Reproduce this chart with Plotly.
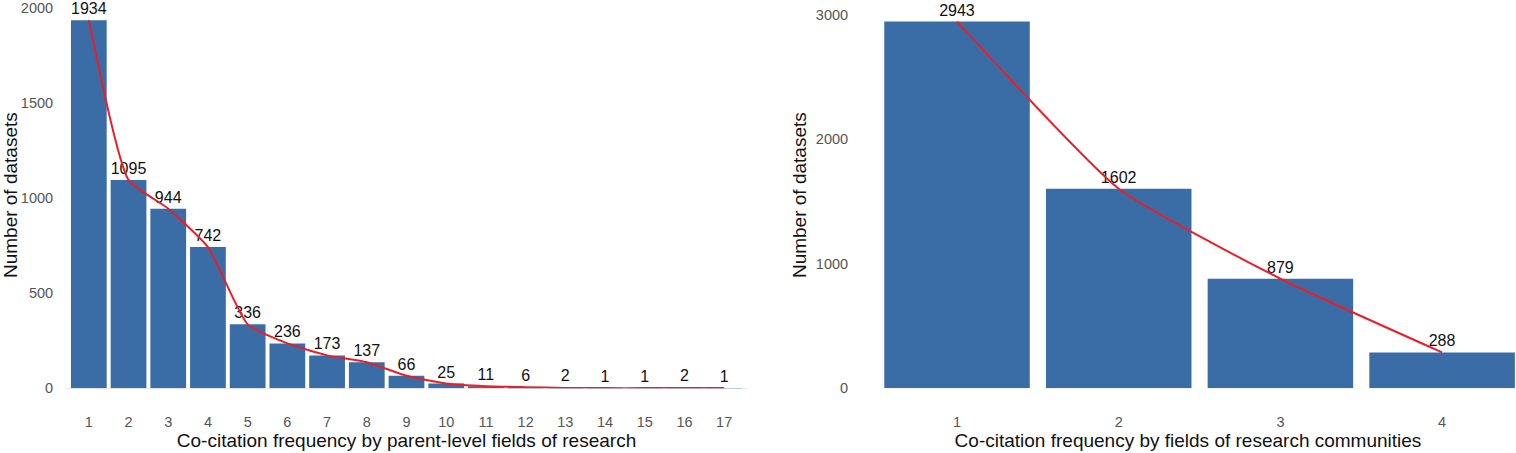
import plotly.graph_objects as go

left_x = list(range(1, 18))
left_vals = [1934, 1095, 944, 742, 336, 236, 173, 137, 66, 25, 11, 6, 2, 1, 1, 2, 1]
right_x = [1, 2, 3, 4]
right_vals = [2943, 1602, 879, 288]

left_xtitle = "Co-citation frequency by parent-level fields of research"
right_xtitle = "Co-citation frequency by fields of research communities"
ytitle = "Number of datasets"

W, H = 1516, 453
BAR = "#3a6ca6"
RED = "#e8202a"
FONT = "Liberation Sans, Arial, sans-serif"

fig = go.Figure()
fig.add_trace(go.Bar(x=left_x, y=left_vals, marker=dict(color=BAR, line=dict(width=0)),
                     text=[str(v) for v in left_vals], textposition="outside",
                     textfont=dict(size=16, color="#111111", family=FONT),
                     cliponaxis=False, xaxis="x", yaxis="y"))
fig.add_trace(go.Scatter(x=left_x, y=left_vals, mode="lines",
                         line=dict(color=RED, width=2, shape="spline", smoothing=0.5),
                         xaxis="x", yaxis="y"))
fig.add_trace(go.Bar(x=right_x, y=right_vals, marker=dict(color=BAR, line=dict(width=0)),
                     text=[str(v) for v in right_vals], textposition="outside",
                     textfont=dict(size=16, color="#111111", family=FONT),
                     cliponaxis=False, xaxis="x2", yaxis="y2"))
fig.add_trace(go.Scatter(x=right_x, y=right_vals, mode="lines",
                         line=dict(color=RED, width=2, shape="spline", smoothing=0.5),
                         xaxis="x2", yaxis="y2"))

ydom = [0.128, 1.0]
tickfont = dict(size=14.5, color="#555555", family=FONT)
titlefont = dict(size=19, color="#111111", family=FONT)

fig.update_layout(
    width=W, height=H, margin=dict(l=0, r=0, t=0, b=0),
    paper_bgcolor="white", plot_bgcolor="white", showlegend=False,
    bargap=0.1, font=dict(family=FONT),
    xaxis=dict(domain=[65 / W, 748 / W], range=[0.4, 17.6], tickmode="array",
               tickvals=left_x, ticktext=[str(v) for v in left_x], showgrid=False,
               zeroline=False, showline=False, ticks="outside", ticklen=20,
               tickcolor="rgba(0,0,0,0)", tickfont=tickfont, ticklabeloverflow="allow",
               title=dict(text=left_xtitle, font=titlefont, standoff=4),
               anchor="y"),
    yaxis=dict(domain=ydom, range=[0, 2030], tickvals=[0, 500, 1000, 1500, 2000],
               showgrid=False, zeroline=True, zerolinecolor="#ececec", zerolinewidth=1,
               showline=False, ticks="outside", ticklen=8, tickcolor="rgba(0,0,0,0)",
               tickfont=tickfont, ticklabeloverflow="allow",
               title=dict(text=ytitle, font=titlefont, standoff=4),
               anchor="x"),
    xaxis2=dict(domain=[860 / W, 1.0], range=[0.4, 4.457], tickmode="array",
                tickvals=right_x, ticktext=[str(v) for v in right_x], showgrid=False,
                zeroline=False, showline=False, ticks="outside", ticklen=20,
                tickcolor="rgba(0,0,0,0)", tickfont=tickfont, ticklabeloverflow="allow",
                title=dict(text=right_xtitle, font=titlefont, standoff=4),
                anchor="y2"),
    yaxis2=dict(domain=ydom, range=[0, 3100], tickvals=[0, 1000, 2000, 3000],
                showgrid=False, zeroline=False, showline=False, ticks="outside",
                ticklen=8, tickcolor="rgba(0,0,0,0)", tickfont=tickfont,
                ticklabeloverflow="allow",
                title=dict(text=ytitle, font=titlefont, standoff=4), anchor="x2"),
)

fig.write_html("out.html", config={"displayModeBar": False, "responsive": False},
               post_script="document.body.style.margin='0';document.body.style.overflow='hidden';")
